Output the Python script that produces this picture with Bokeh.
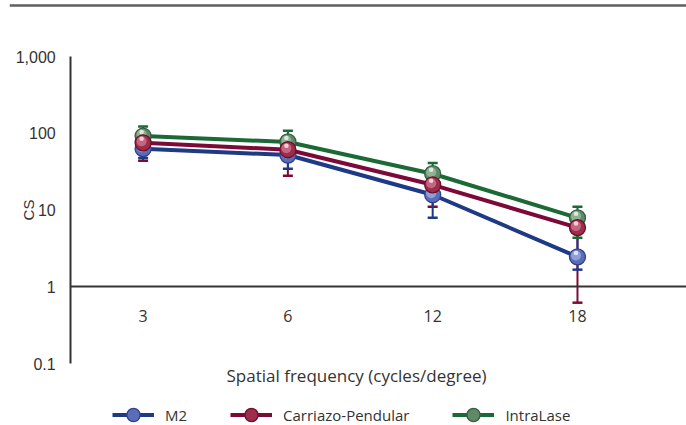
from bokeh.plotting import figure
from bokeh.models import (Range1d, LogScale, LinearAxis, LogAxis, FixedTicker, Span,
                          Legend, LegendItem, ColumnDataSource)
from bokeh.embed import file_html
from bokeh.resources import INLINE

# ---------------- data ----------------
frequencies = ["3", "6", "12", "18"]
series_names = ["M2", "Carriazo-Pendular", "IntraLase"]

m2 = [63, 52, 15.8, 2.45]
m2_lo = [47.5, 34.5, 7.9, 1.67]
m2_hi = [70, 58, 19, 5.3]

cp = [75, 61, 21.3, 5.9]
cp_lo = [43.8, 27.9, 11.0, 0.62]
cp_hi = [88, 72, 27, 7.6]

il = [92, 77, 29.7, 7.9]
il_lo = [72, 60, 23, 4.35]
il_hi = [122, 108, 41, 11.0]

y_ticks = [0.1, 1, 10, 100, 1000]
y_tick_labels = ["0.1", "1", "10", "100", "1,000"]

# ---------------- styles ----------------
line_colors = ["#1f3a85", "#7c0a38", "#1b6a36"]
# edge, body, light, highlight
sphere_colors = [
    ["#2f4290", "#5b6db6", "#9aa8dc", "#e6ebfa"],
    ["#6e0f2c", "#9c2d4b", "#cd7189", "#f7d8e0"],
    ["#365f3f", "#5e8a67", "#98b99e", "#e4efe6"],
]
PX_PER_DEC = 76.75
PX_PER_X = 144.8

xs = list(range(len(frequencies)))

p = figure(width=686, height=425, output_backend="svg", toolbar_location=None,
           x_range=Range1d(-0.9227, 3.753), y_range=Range1d(0.01557, 5366),
           y_axis_type="log", x_axis_location=None, y_axis_location=None,
           min_border=0, min_border_left=9, min_border_right=0,
           min_border_top=0, min_border_bottom=0, outline_line_color=None)
p.y_scale = LogScale()
p.background_fill_color = "white"
p.border_fill_color = "white"
for g in p.grid:
    g.visible = False

# top rule
p.add_layout(Span(location=4618, dimension="width", line_color="#5f5f5f", line_width=2.5))

# y axis
yaxis = LogAxis(fixed_location=-0.5, bounds=(0.1, 1000),
                ticker=FixedTicker(ticks=y_ticks, minor_ticks=[]),
                major_label_overrides={t: l for t, l in zip(y_ticks, y_tick_labels)},
                axis_line_color="#333333", axis_line_width=2,
                major_tick_line_color=None, minor_tick_line_color=None,
                major_tick_out=0, major_tick_in=0,
                major_label_standoff=15,
                major_label_text_font="Liberation Sans",
                major_label_text_font_size="16px",
                major_label_text_color="#333333",
                axis_label="CS", axis_label_standoff=-25,
                axis_label_text_font="Liberation Sans",
                axis_label_text_font_size="15px",
                axis_label_text_font_style="normal",
                axis_label_text_color="#333333")
p.add_layout(yaxis, "left")

# x axis (drawn at CS = 1)
xaxis = LinearAxis(fixed_location=1, bounds=(-0.5, 3.753),
                   ticker=FixedTicker(ticks=xs, minor_ticks=[]),
                   major_label_overrides={i: f for i, f in zip(xs, frequencies)},
                   axis_line_color="#333333", axis_line_width=2,
                   major_tick_line_color=None, minor_tick_line_color=None,
                   major_tick_out=0, major_tick_in=0,
                   major_label_standoff=23,
                   major_label_text_font="Open Sans",
                   major_label_text_font_size="16px",
                   major_label_text_color="#333333")
p.add_layout(xaxis, "below")

# x axis title
xtitle = LinearAxis(fixed_location=1, bounds=(-0.05, 3.0),
                    ticker=FixedTicker(ticks=[], minor_ticks=[]),
                    axis_line_color=None, major_tick_line_color=None,
                    minor_tick_line_color=None,
                    axis_label="Spatial frequency (cycles/degree)",
                    axis_label_standoff=77,
                    axis_label_text_font="Open Sans",
                    axis_label_text_font_size="17px",
                    axis_label_text_font_style="normal",
                    axis_label_text_color="#333333")
p.add_layout(xtitle, "below")

data = [(m2, m2_lo, m2_hi), (cp, cp_lo, cp_hi), (il, il_lo, il_hi)]
sources = []
for vals, lo, hi in data:
    sources.append(ColumnDataSource(dict(
        x=xs, y=vals, lo=lo, hi=hi,
        x_hl=[x - 1.5 / PX_PER_X for x in xs],
        y_m1=[v * 10 ** (1.5 / PX_PER_DEC) for v in vals],
        y_hl=[v * 10 ** (4.0 / PX_PER_DEC) for v in vals],
    )))

# lines
line_r = []
for i in [0, 1, 2]:
    line_r.append(p.line("x", "y", source=sources[i], line_color=line_colors[i],
                         line_width=4, line_join="round"))

# error bars
for i in [1, 0, 2]:
    s = sources[i]
    p.segment(x0="x", y0="lo", x1="x", y1="hi", source=s,
              line_color=line_colors[i], line_width=2)
    p.scatter("x", "lo", source=s, marker="dash", size=10,
              line_color=line_colors[i], line_width=2.5)
    p.scatter("x", "hi", source=s, marker="dash", size=10,
              line_color=line_colors[i], line_width=2.5)

# spherical markers
legend_marker = {}
for i in [0, 2, 1]:
    s = sources[i]
    c = sphere_colors[i]
    r0 = p.scatter("x", "y", source=s, size=16, fill_color=c[1], line_color=c[0],
                   line_width=1.3)
    p.scatter("x_hl", "y_m1", source=s, size=10, fill_color=c[2], line_color=None,
              fill_alpha=0.85)
    p.scatter("x_hl", "y_hl", source=s, size=4.5, fill_color=c[3], line_color=None,
              fill_alpha=0.9)
    legend_marker[i] = r0

items = [LegendItem(label=series_names[i], renderers=[line_r[i], legend_marker[i]])
         for i in range(3)]
legend = Legend(items=items, orientation="horizontal", location=(103, -6),
                padding=0, margin=0, spacing=43, glyph_width=42, glyph_height=33,
                label_height=16, label_standoff=11,
                label_text_font="Open Sans", label_text_font_size="15px",
                label_text_color="#333333",
                border_line_color=None, background_fill_alpha=0)
p.add_layout(legend)

open("out.html", "w").write(file_html(p, INLINE))
